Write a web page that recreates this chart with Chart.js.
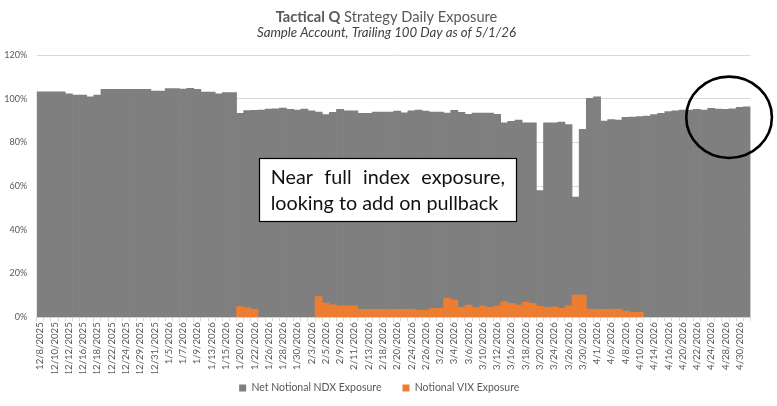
<!DOCTYPE html>
<html><head><meta charset="utf-8">
<script src="https://cdn.jsdelivr.net/npm/chart.js@4.4.1/dist/chart.umd.min.js"></script>
<style>html,body{margin:0;padding:0;background:#fff;overflow:hidden}#wrap{width:777px;height:406px;position:relative}</style>
</head><body><div id="wrap"><canvas id="c" width="777" height="406"></canvas></div>
<script>
const categories = [
'12/8/2025','12/9/2025','12/10/2025','12/11/2025','12/12/2025','12/15/2025','12/16/2025','12/17/2025','12/18/2025','12/19/2025',
'12/22/2025','12/23/2025','12/24/2025','12/26/2025','12/29/2025','12/30/2025','12/31/2025',
'1/2/2026','1/5/2026','1/6/2026','1/7/2026','1/8/2026','1/9/2026','1/12/2026','1/13/2026','1/14/2026','1/15/2026','1/16/2026',
'1/20/2026','1/21/2026','1/22/2026','1/23/2026','1/26/2026','1/27/2026','1/28/2026','1/29/2026','1/30/2026',
'2/2/2026','2/3/2026','2/4/2026','2/5/2026','2/6/2026','2/9/2026','2/10/2026','2/11/2026','2/12/2026','2/13/2026',
'2/17/2026','2/18/2026','2/19/2026','2/20/2026','2/23/2026','2/24/2026','2/25/2026','2/26/2026','2/27/2026',
'3/2/2026','3/3/2026','3/4/2026','3/5/2026','3/6/2026','3/9/2026','3/10/2026','3/11/2026','3/12/2026','3/13/2026',
'3/16/2026','3/17/2026','3/18/2026','3/19/2026','3/20/2026','3/23/2026','3/24/2026','3/25/2026','3/26/2026','3/27/2026',
'3/30/2026','3/31/2026',
'4/1/2026','4/2/2026','4/6/2026','4/7/2026','4/8/2026','4/9/2026','4/10/2026','4/13/2026','4/14/2026','4/15/2026',
'4/16/2026','4/17/2026','4/20/2026','4/21/2026','4/22/2026','4/23/2026','4/24/2026','4/27/2026','4/28/2026','4/29/2026',
'4/30/2026','5/1/2026'];

const ndxExposure = [
103.1,103.1,103.1,103.1,102.2,101.7,101.7,100.9,101.7,104.3,
104.3,104.3,104.3,104.3,104.3,104.3,103.5,103.5,104.6,104.6,
104.4,104.8,104.3,103.0,103.0,102.2,102.8,102.8,93.3,94.6,
94.7,94.8,95.3,95.4,95.7,95.1,94.8,95.3,94.5,93.9,
92.7,93.8,95.1,94.5,94.5,93.3,93.3,93.9,93.9,93.9,
94.4,93.6,94.5,94.8,94.4,93.9,93.9,93.4,94.7,93.8,
92.8,93.4,93.4,93.4,92.8,89.0,89.6,90.2,89.0,89.0,
58.0,89.0,89.0,89.3,88.2,55.0,86.0,100.2,100.9,89.8,
90.5,90.2,91.5,91.6,91.8,92.1,92.7,93.3,94.1,94.5,
94.8,94.8,95.1,94.8,95.6,95.3,95.1,95.4,96.1,96.3];

const vixExposure = [
null,null,null,null,null,null,null,null,null,null,
null,null,null,null,null,null,null,null,null,null,
null,null,null,null,null,null,null,null,4.9,4.3,
3.7,null,null,null,null,null,null,null,null,9.5,
6.5,5.7,5.3,5.3,5.2,3.7,3.7,3.7,3.7,3.7,
3.7,3.7,3.7,3.3,3.3,4.1,4.1,8.7,7.9,4.6,
5.6,4.4,5.2,4.6,5.2,7.1,6.4,5.6,6.9,6.4,
5.0,4.6,4.8,4.1,5.2,10.2,10.2,3.8,3.7,3.7,
3.7,3.8,2.9,2.3,2.3,null,null,null,null,null,
null,null,null,null,null,null,null,null,null,null];

const yTicks = [0,20,40,60,80,100,120];
const titleBold = 'Tactical Q';
const titleRest = ' Strategy Daily Exposure';
const subtitleText = 'Sample Account, Trailing 100 Day as of 5/1/26';
const noteLines = ['Near full index exposure,', 'looking to add on pullback'];

const FONT = 'Lato';

const overlayPlugin = {
  id: 'overlay',
  beforeLayout(chart) {
    const lg = chart.legend;
    if (lg && !lg._fixedFit) {
      const origFit = lg.fit.bind(lg);
      lg.fit = function () { origFit(); this.height = 32.7; };
      lg._fixedFit = true;
    }
  },
  afterLayout(chart) {
    const lg = chart.legend;
    if (lg) {
      lg.left += 4; lg.right += 4;
      const h = lg.bottom - lg.top;
      lg.top = 361.8; lg.bottom = lg.top + h;
    }
  },
  afterDraw(chart) {
    const ctx = chart.ctx;
    ctx.save();
    // Title
    const cx = 386.5;
    let fs = 15;
    ctx.font = `bold ${fs}px ${FONT}`;
    let wb = ctx.measureText(titleBold).width;
    ctx.font = `${fs}px ${FONT}`;
    let wr = ctx.measureText(titleRest).width;
    fs = fs * 222 / (wb + wr);
    ctx.font = `bold ${fs}px ${FONT}`;
    wb = ctx.measureText(titleBold).width;
    ctx.font = `${fs}px ${FONT}`;
    wr = ctx.measureText(titleRest).width;
    const tx = cx - (wb + wr) / 2;
    ctx.fillStyle = '#595959';
    ctx.textBaseline = 'alphabetic';
    ctx.textAlign = 'left';
    ctx.font = `bold ${fs}px ${FONT}`;
    ctx.fillText(titleBold, tx, 21.8);
    ctx.font = `${fs}px ${FONT}`;
    ctx.fillText(titleRest, tx + wb, 21.8);
    // Subtitle
    let ss = 12;
    ctx.font = `italic ${ss}px ${FONT}`;
    ss = ss * 259 / ctx.measureText(subtitleText).width;
    ctx.font = `italic ${ss}px ${FONT}`;
    ctx.fillStyle = '#404040';
    ctx.textAlign = 'center';
    ctx.fillText(subtitleText, cx, 36.5);

    // Note box
    ctx.fillStyle = '#ffffff';
    ctx.fillRect(259.5, 158.5, 257, 63);
    ctx.strokeStyle = '#000000';
    ctx.lineWidth = 1.2;
    ctx.strokeRect(259.5, 158.5, 257, 63);
    let ns = 20;
    ctx.font = `${ns}px ${FONT}`;
    ns = ns * 227.6 / ctx.measureText(noteLines[1]).width;
    ctx.font = `${ns}px ${FONT}`;
    ctx.fillStyle = '#111111';
    ctx.textAlign = 'left';
    const words = noteLines[0].split(' ');
    const wsum = words.reduce((s, w) => s + ctx.measureText(w).width, 0);
    const gap = (234.3 - wsum) / (words.length - 1);
    let x = 270.7;
    words.forEach(w => { ctx.fillText(w, x, 184.3); x += ctx.measureText(w).width + gap; });
    ctx.fillText(noteLines[1], 270.7, 210);

    // Circle highlight anchored to scales
    const xs = chart.scales.x, ys = chart.scales.y;
    const ccx = (xs.getPixelForValue(96) + xs.getPixelForValue(97)) / 2;
    const ccy = ys.getPixelForValue(91.5);
    const rx = (xs.getPixelForValue(6) - xs.getPixelForValue(0));
    const ry = ys.getPixelForValue(0) - ys.getPixelForValue(18.6);
    ctx.beginPath();
    ctx.ellipse(ccx, ccy, rx, ry, 0, 0, Math.PI * 2);
    ctx.lineWidth = 2.6;
    ctx.strokeStyle = '#000';
    ctx.stroke();
    ctx.restore();
  }
};

new Chart(document.getElementById('c'), {
  type: 'bar',
  data: {
    labels: categories,
    datasets: [
      { label: 'Net Notional NDX Exposure', data: ndxExposure, backgroundColor: '#7f7f7f', order: 2, grouped: false,
        categoryPercentage: 1, barPercentage: 1, borderWidth: 0 },
      { label: 'Notional VIX Exposure', data: vixExposure, backgroundColor: '#ed7d31', order: 1, grouped: false,
        categoryPercentage: 1, barPercentage: 1, borderWidth: 0 }
    ]
  },
  options: {
    responsive: false,
    animation: false,
    devicePixelRatio: 1,
    layout: { padding: { top: 55, right: 26.5, left: 0, bottom: 0 } },
    plugins: {
      legend: {
        position: 'bottom',
        labels: { sort: (a, b) => a.datasetIndex - b.datasetIndex,
          boxWidth: 7, boxHeight: 7, padding: 21, color: '#595959', font: { family: FONT, size: 10.5 } }
      },
      tooltip: { enabled: false },
      title: { display: false }
    },
    scales: {
      x: {
        offset: true,
        grid: { display: true, drawOnChartArea: false, drawTicks: true, tickLength: 4, color: '#d9d9d9', offset: true },
        border: { display: true, color: '#d9d9d9' },
        ticks: {
          autoSkip: false, maxRotation: 90, minRotation: 90, padding: 1,
          color: '#595959', font: { family: FONT, size: 9.6 },
          callback: (v, i) => (i % 2 === 0 ? categories[i] : '')
        },
        afterFit(s) { s.height = 56; }
      },
      y: {
        min: 0, max: 120,
        afterBuildTicks(s) { s.ticks = yTicks.map(v => ({ value: v })); },
        ticks: { padding: 9.5, color: '#595959', font: { family: FONT, size: 9 }, callback: v => v + '%' },
        grid: { color: '#d9d9d9', drawTicks: false },
        border: { display: false },
        afterFit(s) { s.width = 36.7; }
      }
    }
  },
  plugins: [overlayPlugin]
});
</script></body></html>
